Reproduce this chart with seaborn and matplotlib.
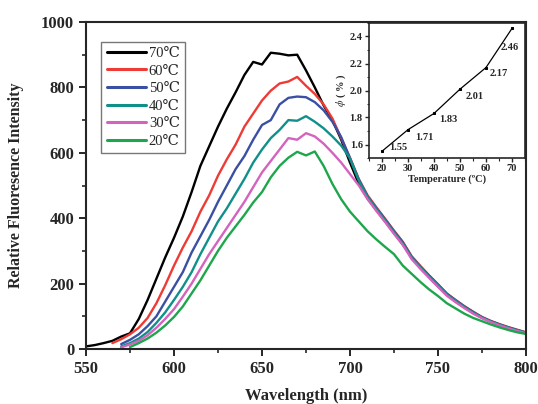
import numpy as np
import pandas as pd
import seaborn as sns
import matplotlib.pyplot as plt
from matplotlib.ticker import MultipleLocator

nan = np.nan

wavelength = [550, 555, 560, 565, 570, 575, 580, 585, 590, 595, 600, 605, 610, 615, 620, 625, 630,
              635, 640, 645, 650, 655, 660, 665, 670, 675, 680, 685, 690, 695, 700, 705, 710, 715,
              720, 725, 730, 735, 740, 745, 750, 755, 760, 765, 770, 775, 780, 785, 790, 795, 800]

i70 = [8, 12, 18, 25, 38, 48, 92, 150, 215, 280, 340, 405, 480, 560, 620, 680, 735, 785, 838, 878,
       870, 906, 903, 898, 900, 852, 800,
       745, 700, 640, 570, 505, 460, 425, 390, 355, 320, 280, 250, 220, 192, 166, 146, 128, 110,
       96, 84, 74, 65, 57, 50]
i60 = [nan, nan, nan,
       18, 30, 45, 65, 95, 140, 195, 255, 310, 360, 420, 470, 530, 580, 625, 680, 720, 760, 790,
       812, 818, 832, 805, 780,
       748, 705, 645, 585, 520, 470, 433, 398, 362, 328, 284, 254, 225, 198, 170, 150, 131, 114,
       98, 86, 76, 67, 59, 51]
i50 = [nan, nan, nan, nan,
       15, 28, 45, 70, 100, 145, 190, 235, 295, 345, 395, 450, 500, 550, 590, 640, 685, 700, 748,
       768, 772, 770, 755, 730, 695, 648,
       583, 518, 466, 431, 396, 360, 326, 282, 252, 224, 197, 169, 149, 130, 113, 97, 85, 75, 66,
       58, 50]
i40 = [nan, nan, nan, nan,
       8, 18, 32, 52, 80, 112, 150, 190, 235, 290, 340, 390, 430, 475, 520, 570, 610, 645, 670,
       700, 698, 712, 695, 675, 650, 622, 583,
       515, 465, 428, 393, 357, 322, 280, 250, 221, 195, 167, 147, 128, 111, 96, 84, 74, 65, 57, 49]
i30 = [nan, nan, nan, nan,
       5, 14, 25, 42, 65, 92, 122, 160, 200, 245, 290, 330, 370, 410, 450, 495, 540, 575, 610,
       645, 640, 660, 650, 628, 600, 570, 535, 500, 458,
       422, 388, 352, 318, 275, 245, 217, 190, 163, 143, 125, 108, 94, 82, 72, 63, 55, 48]
i20 = [nan, nan, nan, nan, nan,
       6, 18, 32, 50, 72, 98, 130, 170, 210, 255, 300, 340, 375, 410, 448, 480, 525, 560, 585,
       603, 592, 604, 560, 505, 458, 420, 390, 360, 335, 312, 290, 255, 230, 205, 182, 162, 140,
       124, 108, 95, 85, 75, 66, 58, 51, 46]

labels = ["70℃", "60℃", "50℃", "40℃", "30℃", "20℃"]
colors = ["#000000", "#ee3b35", "#3b4fa3", "#10908a", "#d463be", "#1ea64c"]

inset_temp = [20, 30, 40, 50, 60, 70]
inset_phi = [1.55, 1.71, 1.83, 2.01, 2.17, 2.46]
inset_text = ["1.55", "1.71", "1.83", "2.01", "2.17", "2.46"]

rows = []
for lab, vals in zip(labels, [i70, i60, i50, i40, i30, i20]):
    for w, v in zip(wavelength, vals):
        if not np.isnan(v):
            rows.append((w, v, lab))
df = pd.DataFrame(rows, columns=["wavelength", "intensity", "temp"])

sns.set_style("ticks")
plt.rcParams["font.family"] = ["Liberation Serif", "DejaVu Serif"]
plt.rcParams["mathtext.fontset"] = "stix"
plt.rcParams["axes.linewidth"] = 1.5

fig = plt.figure(figsize=(5.38, 4.04), dpi=100)
ax = fig.add_axes([86 / 538, 55 / 404, 440 / 538, 327 / 404])

sns.lineplot(data=df, x="wavelength", y="intensity", hue="temp", hue_order=labels,
             palette=dict(zip(labels, colors)), estimator=None, lw=1.7, ax=ax)

ax.set_xlim(550, 800)
ax.set_ylim(0, 1000)
ax.xaxis.set_major_locator(MultipleLocator(50))
ax.xaxis.set_minor_locator(MultipleLocator(25))
ax.yaxis.set_major_locator(MultipleLocator(200))
ax.yaxis.set_minor_locator(MultipleLocator(100))
ax.tick_params(which="major", direction="out", length=5, width=1.4, labelsize=12)
ax.tick_params(which="minor", direction="out", length=3, width=1.2)
for t in ax.get_xticklabels() + ax.get_yticklabels():
    t.set_fontweight("bold")
ax.set_xlabel("Wavelength (nm)", fontsize=12, fontweight="bold", labelpad=8)
ax.set_ylabel("Relative Fluoresence Intensity", fontsize=11.5, fontweight="bold", labelpad=12)

handles, labs = ax.get_legend_handles_labels()
leg = ax.legend(handles, labs, loc="upper left", bbox_to_anchor=(0.035, 0.94),
                prop={"size": 10.5}, frameon=True, fancybox=False, handlelength=2.7,
                labelspacing=0.3, borderpad=0.35, handletextpad=0.2, borderaxespad=0)
leg.get_frame().set_edgecolor("#555555")
leg.get_frame().set_linewidth(1.0)
for h in leg.get_lines():
    h.set_linewidth(2.2)

ins = fig.add_axes([369 / 538, 246 / 404, 156 / 538, 135 / 404])
sns.lineplot(x=inset_temp, y=inset_phi, color="black", lw=0.9, marker="s", markersize=1.6,
             markeredgecolor="black", ax=ins)
offsets = [(11.5, 2.4), (11.5, -5.8), (10.4, -4.5), (10.8, -5.1), (9.4, -4.0), (-1.4, -14.1)]
for x, y, s, off in zip(inset_temp, inset_phi, inset_text, offsets):
    ins.annotate(s, (x, y), xytext=off, textcoords="offset points", ha="center", va="center",
                 fontsize=7.5, fontweight="bold")
ins.set_xlim(15, 75)
ins.set_ylim(1.5, 2.5)
ins.xaxis.set_major_locator(MultipleLocator(10))
ins.xaxis.set_minor_locator(MultipleLocator(5))
ins.yaxis.set_major_locator(MultipleLocator(0.2))
ins.yaxis.set_minor_locator(MultipleLocator(0.1))
ins.tick_params(which="major", direction="out", length=3, width=1.0, labelsize=7.5, pad=1.5)
ins.tick_params(which="minor", direction="out", length=1.8, width=0.8)
for t in ins.get_xticklabels() + ins.get_yticklabels():
    t.set_fontweight("bold")
for sp in ins.spines.values():
    sp.set_linewidth(1.2)
ins.set_xlabel("Temperature (ºC)", fontsize=7.5, fontweight="bold", labelpad=1)
ins.set_ylabel(r"$\phi$ ( % )", fontsize=7.5, fontweight="bold", labelpad=1)

fig.savefig("out.png", dpi=100)
